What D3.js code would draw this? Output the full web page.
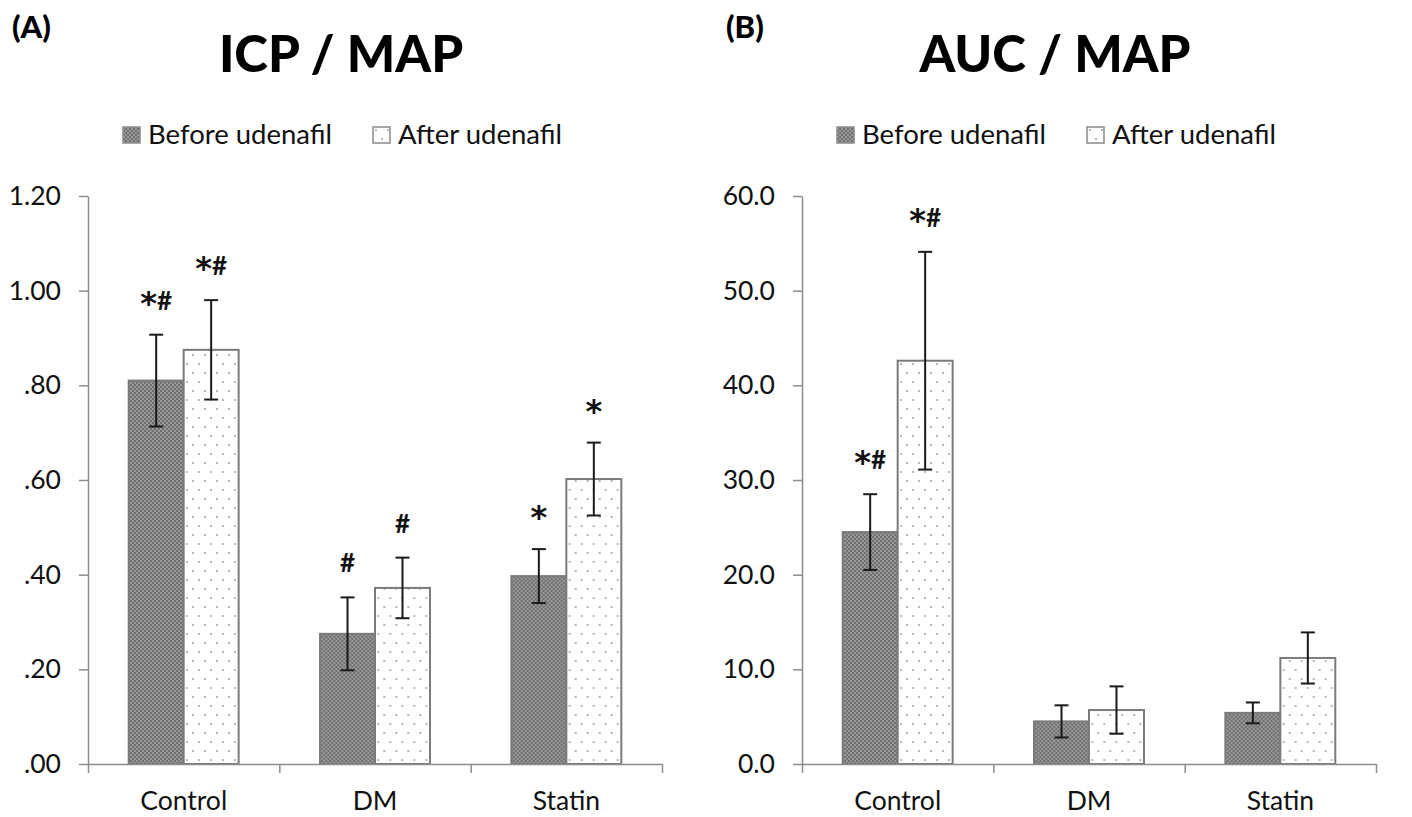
<!DOCTYPE html>
<html>
<head>
<meta charset="utf-8">
<script src="https://cdn.jsdelivr.net/npm/d3@7"></script>
<style>
  html, body { margin: 0; padding: 0; background: #fff; }
  svg { display: block; font-family: Lato, "Open Sans", sans-serif; }
</style>
</head>
<body>
<div id="wrapper"></div>
<script>
// Categories and series
const categories = ["Control", "DM", "Statin"];
const seriesNames = ["Before udenafil", "After udenafil"];

// (A) ICP / MAP
const icpBefore = [0.81, 0.275, 0.397];
const icpBeforeErr = [0.097, 0.077, 0.057];
const icpAfter = [0.875, 0.372, 0.602];
const icpAfterErr = [0.105, 0.064, 0.077];
const icpBeforeMarks = ["*#", "#", "*"];
const icpAfterMarks = ["*#", "#", "*"];
const icpTicks = [0, 0.2, 0.4, 0.6, 0.8, 1.0, 1.2];

// (B) AUC / MAP
const aucBefore = [24.5, 4.5, 5.4];
const aucBeforeErr = [4.0, 1.7, 1.1];
const aucAfter = [42.6, 5.7, 11.2];
const aucAfterErr = [11.5, 2.5, 2.7];
const aucBeforeMarks = ["*#", "", ""];
const aucAfterMarks = ["*#", "", ""];
const aucTicks = [0, 10, 20, 30, 40, 50, 60];

const width = 1412, height = 817;

const svg = d3.select("#wrapper")
    .append("svg")
    .attr("width", width)
    .attr("height", height);

// fill patterns for the two series
const defs = svg.append("defs");
const dense = defs.append("pattern")
    .attr("id", "dense")
    .attr("patternUnits", "userSpaceOnUse")
    .attr("width", 4).attr("height", 4);
dense.append("rect").attr("width", 4).attr("height", 4).attr("fill", "#707070");
dense.append("circle").attr("cx", 1).attr("cy", 1).attr("r", 0.9).attr("fill", "#acacac");
dense.append("circle").attr("cx", 3).attr("cy", 3).attr("r", 0.9).attr("fill", "#acacac");

const sparse = defs.append("pattern")
    .attr("id", "sparse")
    .attr("patternUnits", "userSpaceOnUse")
    .attr("width", 12).attr("height", 18);
sparse.append("rect").attr("width", 12).attr("height", 18).attr("fill", "#fff");
sparse.append("circle").attr("cx", 3).attr("cy", 4).attr("r", 1).attr("fill", "#a0a0a0");
sparse.append("circle").attr("cx", 9).attr("cy", 13).attr("r", 1).attr("fill", "#a0a0a0");

const fills = ["url(#dense)", "url(#sparse)"];

const panels = [
    {
        tag: "(A)", title: "ICP / MAP",
        values: [icpBefore, icpAfter], errors: [icpBeforeErr, icpAfterErr],
        marks: [icpBeforeMarks, icpAfterMarks],
        ticks: icpTicks, max: 1.2,
        format: d => d3.format(".2f")(d).replace(/^0(?=\.)/, ""),
        offset: 0
    },
    {
        tag: "(B)", title: "AUC / MAP",
        values: [aucBefore, aucAfter], errors: [aucBeforeErr, aucAfterErr],
        marks: [aucBeforeMarks, aucAfterMarks],
        ticks: aucTicks, max: 60,
        format: d3.format(".1f"),
        offset: 714
    }
];

function drawPanel(p) {
    const g = svg.append("g").attr("transform", `translate(${p.offset},0)`);

    const plotLeft = 88, plotRight = 662, plotTop = 196, plotBottom = 764;

    const x0 = d3.scaleBand()
        .domain(categories)
        .range([plotLeft, plotRight])
        .padding(0);
    const x1 = d3.scaleBand()
        .domain(seriesNames)
        .range([0, x0.bandwidth()])
        .paddingInner(0)
        .paddingOuter(0.74);
    const y = d3.scaleLinear()
        .domain([0, p.max])
        .range([plotBottom, plotTop]);

    // tag and title
    g.append("text")
        .attr("x", 12).attr("y", 38)
        .attr("font-size", 31).attr("font-weight", 900)
        .attr("fill", "#000")
        .text(p.tag);
    g.append("text")
        .attr("x", 341).attr("y", 72)
        .attr("text-anchor", "middle")
        .attr("font-size", 51).attr("font-weight", 900)
        .attr("fill", "#000")
        .text(p.title);

    // legend
    const legendX = [123, 373];
    const legend = g.selectAll(".legend")
        .data(seriesNames)
        .join("g")
        .attr("transform", (d, i) => `translate(${legendX[i]},0)`);
    legend.append("rect")
        .attr("x", 0).attr("y", 127)
        .attr("width", 17).attr("height", 16)
        .attr("fill", (d, i) => fills[i])
        .attr("stroke", "#8a8a8a").attr("stroke-width", 1.5);
    legend.append("text")
        .attr("x", 25).attr("y", 144)
        .attr("font-size", 27.5)
        .attr("fill", "#111")
        .text(d => d);

    // bars
    const groups = g.selectAll(".cat")
        .data(categories)
        .join("g")
        .attr("transform", d => `translate(${x0(d)},0)`);

    const rows = ci => seriesNames.map((s, si) => ({
        series: s, si,
        value: p.values[si][ci],
        err: p.errors[si][ci],
        mark: p.marks[si][ci]
    }));

    groups.each(function (cat, ci) {
        const sel = d3.select(this);
        const data = rows(ci);

        sel.selectAll("rect")
            .data(data)
            .join("rect")
            .attr("x", d => x1(d.series))
            .attr("y", d => y(d.value))
            .attr("width", x1.bandwidth())
            .attr("height", d => y(0) - y(d.value))
            .attr("fill", d => fills[d.si])
            .attr("stroke", "#7a7a7a")
            .attr("stroke-width", 2);

        const err = sel.selectAll(".err")
            .data(data)
            .join("g")
            .attr("class", "err")
            .attr("stroke", "#1a1a1a")
            .attr("stroke-width", 2);
        const cx = d => x1(d.series) + x1.bandwidth() / 2;
        err.append("line")
            .attr("x1", cx).attr("x2", cx)
            .attr("y1", d => y(d.value + d.err))
            .attr("y2", d => y(d.value - d.err));
        err.append("line")
            .attr("x1", d => cx(d) - 7).attr("x2", d => cx(d) + 7)
            .attr("y1", d => y(d.value + d.err))
            .attr("y2", d => y(d.value + d.err));
        err.append("line")
            .attr("x1", d => cx(d) - 7).attr("x2", d => cx(d) + 7)
            .attr("y1", d => y(d.value - d.err))
            .attr("y2", d => y(d.value - d.err));

        // significance marks; the asterisk is set in a bigger face and lowered
        const marks = sel.selectAll(".mark")
            .data(data.filter(d => d.mark))
            .join("text")
            .attr("class", "mark")
            .attr("x", cx)
            .attr("y", d => y(d.value + d.err) - 25)
            .attr("text-anchor", "middle")
            .attr("font-weight", "bold")
            .attr("fill", "#111");
        marks.selectAll("tspan")
            .data(d => d.mark.split("").map((c, i, arr) => ({c, prev: arr[i - 1]})))
            .join("tspan")
            .attr("font-size", t => t.c === "*" ? 32 : 26)
            .attr("font-family", t => t.c === "*" ? "DejaVu Sans, sans-serif" : null)
            .attr("dy", t => t.c === "*" ? 4 : (t.prev === "*" ? -4 : 0))
            .text(t => t.c);
    });

    // y axis
    const yAxis = d3.axisLeft(y)
        .tickValues(p.ticks)
        .tickFormat(p.format)
        .tickSize(9)
        .tickSizeOuter(0)
        .tickPadding(18);
    const yg = g.append("g")
        .attr("transform", `translate(${plotLeft},0)`)
        .call(yAxis);
    yg.selectAll("path, line").attr("stroke", "#8c8c8c").attr("stroke-width", 1.5);
    yg.selectAll("text")
        .attr("font-size", 26.5)
        .attr("font-family", "Lato, sans-serif")
        .attr("fill", "#111");

    // x axis: boundary ticks between categories
    const edges = d3.scaleLinear().domain([0, categories.length]).range([plotLeft, plotRight]);
    const xEdges = g.append("g")
        .attr("transform", `translate(0,${plotBottom})`)
        .call(d3.axisBottom(edges)
            .tickValues(d3.range(categories.length + 1))
            .tickFormat("")
            .tickSize(9)
            .tickSizeOuter(0));
    xEdges.selectAll("path, line").attr("stroke", "#8c8c8c").attr("stroke-width", 1.5);

    // category labels
    const xLabels = g.append("g")
        .attr("transform", `translate(0,${plotBottom})`)
        .call(d3.axisBottom(x0).tickSize(0).tickPadding(27));
    xLabels.select(".domain").remove();
    xLabels.selectAll("text")
        .attr("font-size", 26.5)
        .attr("font-family", "Lato, sans-serif")
        .attr("fill", "#111");
}

panels.forEach(drawPanel);
</script>
</body>
</html>
